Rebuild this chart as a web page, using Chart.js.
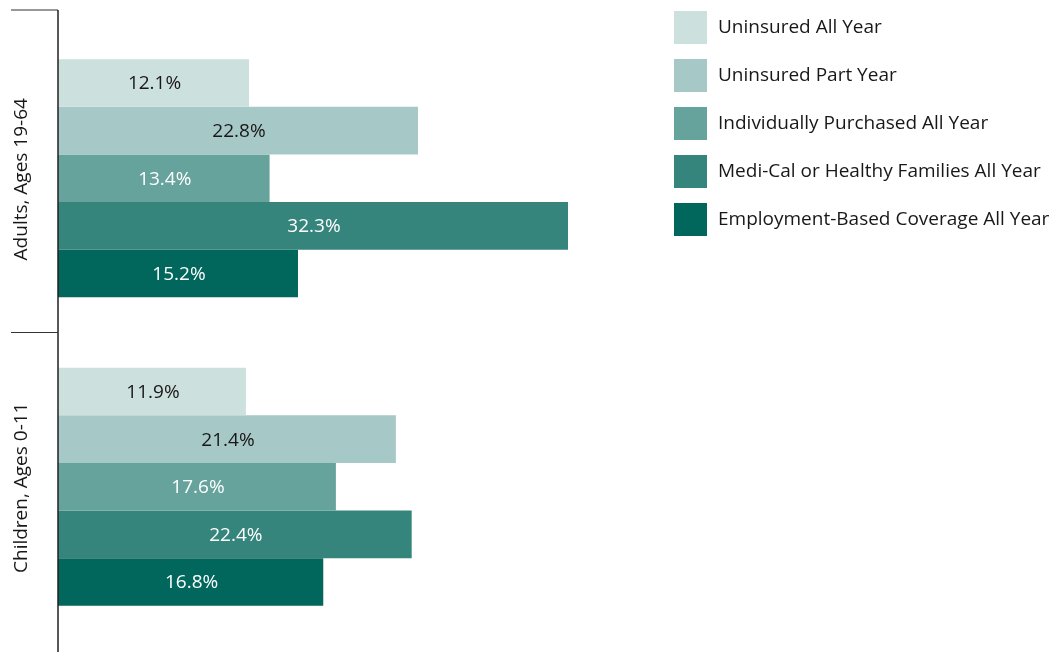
<!DOCTYPE html>
<html>
<head>
<meta charset="utf-8">
<script src="https://cdn.jsdelivr.net/npm/chart.js@4.4.1/dist/chart.umd.min.js"></script>
<style>
  html, body { margin: 0; padding: 0; background: #fff; }
  #wrap { position: relative; width: 1050px; height: 652px; }
</style>
</head>
<body>
<div id="wrap"><canvas id="chart-cobertura" width="1050" height="652"></canvas></div>
<script>
// grupos de edad
const categorias = ['Adults, Ages 19-64', 'Children, Ages 0-11'];

// series de cobertura (porcentajes)
const series = [
  'Uninsured All Year',
  'Uninsured Part Year',
  'Individually Purchased All Year',
  'Medi-Cal or Healthy Families All Year',
  'Employment-Based Coverage All Year'
];
const uninsuredAllYear = [12.1, 11.9];
const uninsuredPartYear = [22.8, 21.4];
const individualAllYear = [13.4, 17.6];
const mediCalAllYear = [32.3, 22.4];
const employmentAllYear = [15.2, 16.8];

const colores = ['#cce0de', '#a6c9c7', '#65a39c', '#35857d', '#01665c'];
const coloresTexto = ['#1a1718', '#1a1718', '#ffffff', '#ffffff', '#ffffff'];
const valores = [uninsuredAllYear, uninsuredPartYear, individualAllYear, mediCalAllYear, employmentAllYear];

const FUENTE = '"Open Sans", "Noto Sans", sans-serif';

// eje vertical, marcas y etiquetas de grupo
const ejePlugin = {
  id: 'ejeGrupos',
  afterDatasetsDraw(chart) {
    const { ctx, chartArea, scales } = chart;
    const y = scales.y;
    ctx.save();
    ctx.strokeStyle = '#231f20';
    ctx.lineWidth = 1.5;
    ctx.beginPath();
    ctx.moveTo(chartArea.left, 10);
    ctx.lineTo(chartArea.left, 652);
    ctx.stroke();

    ctx.lineWidth = 1.2;
    ctx.strokeStyle = '#333';
    const mid = (y.getPixelForValue(0) + y.getPixelForValue(1)) / 2;
    [10, mid].forEach(py => {
      ctx.beginPath();
      ctx.moveTo(11, py);
      ctx.lineTo(chartArea.left, py);
      ctx.stroke();
    });

    ctx.fillStyle = '#1a1718';
    ctx.font = '19px ' + FUENTE;
    ctx.textAlign = 'center';
    ctx.textBaseline = 'middle';
    categorias.forEach((cat, i) => {
      const cy = y.getPixelForValue(i);
      ctx.save();
      ctx.translate(22, cy + 1);
      ctx.rotate(-Math.PI / 2);
      ctx.fillText(cat, 0, 0);
      ctx.restore();
    });

    // valores dentro de las barras
    ctx.font = '19px ' + FUENTE;
    chart.data.datasets.forEach((ds, di) => {
      const meta = chart.getDatasetMeta(di);
      ctx.fillStyle = coloresTexto[di];
      meta.data.forEach((bar, i) => {
        const cx = (bar.x + bar.base) / 2;
        ctx.fillText(ds.data[i].toFixed(1) + '%', cx + 1, bar.y + 1);
      });
    });

    // leyenda
    ctx.textAlign = 'left';
    ctx.font = '19px ' + FUENTE;
    chart.data.datasets.forEach((ds, di) => {
      const top = 11 + di * 48;
      ctx.fillStyle = ds.backgroundColor;
      ctx.fillRect(674, top, 33, 33);
      ctx.fillStyle = '#1a1718';
      ctx.fillText(ds.label, 718, top + 17);
    });
    ctx.restore();
  }
};

new Chart(document.getElementById('chart-cobertura').getContext('2d'), {
  type: 'bar',
  data: {
    labels: categorias,
    datasets: series.map((nombre, i) => ({
      label: nombre,
      data: valores[i],
      backgroundColor: colores[i],
      borderWidth: 0,
      categoryPercentage: 0.772,
      barPercentage: 1.0
    }))
  },
  options: {
    indexAxis: 'y',
    responsive: false,
    animation: false,
    layout: { padding: { left: 58, right: 362, top: 24, bottom: 11 } },
    scales: {
      x: { display: false, min: 0, max: 39.9 },
      y: { display: false }
    },
    plugins: {
      legend: { display: false },
      tooltip: { enabled: false }
    }
  },
  plugins: [ejePlugin]
});
</script>
</body>
</html>
